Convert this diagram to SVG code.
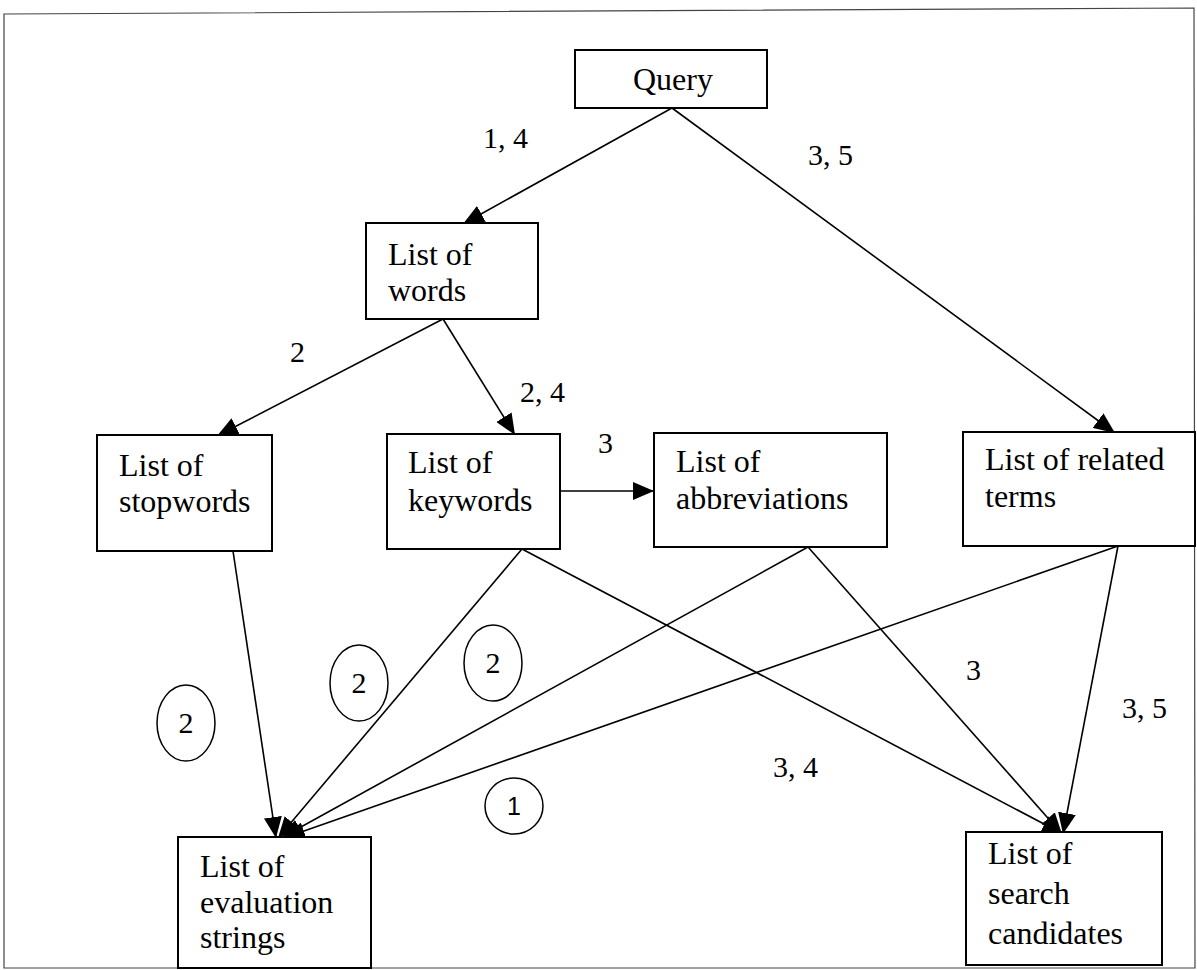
<svg xmlns="http://www.w3.org/2000/svg" width="1197" height="970" viewBox="0 0 1197 970">
  <style>
    .box { fill: #fff; stroke: #000; stroke-width: 2; }
    .txt { font-family: "Liberation Serif", "Times New Roman", serif; font-size: 32px; fill: #000; }
    .lbl { font-family: "Liberation Serif", "Times New Roman", serif; font-size: 30px; fill: #000; }
    .edge { fill: none; stroke: #000; stroke-width: 1.6; marker-end: url(#arrow); }
    .step { fill: none; stroke: #000; stroke-width: 1.5; }
    .frame { fill: none; stroke: #444; stroke-width: 1.2; }
  </style>
  <defs>
    <marker id="arrow" markerUnits="userSpaceOnUse" markerWidth="22" markerHeight="18" refX="21" refY="9" orient="auto">
      <path d="M0,0 L21,9 L0,18 Z" fill="#000"/>
    </marker>
  </defs>

  <rect width="1197" height="970" fill="#fff"/>
  <path class="frame" d="M4,14 L1194,8 L1195,968 L4,968 Z"/>

  <!-- connectors (drawn first so node boxes sit on top) -->
  <g id="connectors">
    <line class="edge" x1="672" y1="108" x2="463" y2="224"/>
    <line class="edge" x1="672" y1="108" x2="1115" y2="433"/>
    <line class="edge" x1="443" y1="319" x2="217" y2="436"/>
    <line class="edge" x1="443" y1="319" x2="515" y2="435"/>
    <line class="edge" x1="560" y1="491" x2="654" y2="491"/>
    <line class="edge" x1="233" y1="551" x2="276" y2="838"/>
    <line class="edge" x1="522" y1="549" x2="278" y2="838"/>
    <line class="edge" x1="808" y1="547" x2="281" y2="838"/>
    <line class="edge" x1="1118" y1="546" x2="284" y2="838"/>
    <line class="edge" x1="522" y1="549" x2="1063" y2="834"/>
    <line class="edge" x1="808" y1="547" x2="1062" y2="834"/>
    <line class="edge" x1="1118" y1="546" x2="1063" y2="834"/>

    <text class="lbl" x="483" y="148">1, 4</text>
    <text class="lbl" x="808" y="165">3, 5</text>
    <text class="lbl" x="290" y="362">2</text>
    <text class="lbl" x="520" y="402">2, 4</text>
    <text class="lbl" x="598" y="453">3</text>
    <text class="lbl" x="966" y="680">3</text>
    <text class="lbl" x="1122" y="718">3, 5</text>
    <text class="lbl" x="773" y="777">3, 4</text>
  </g>

  <!-- circled step numbers -->
  <g id="steps">
    <ellipse class="step" cx="186" cy="723" rx="29" ry="38"/>
    <text class="lbl" x="186" y="733" text-anchor="middle">2</text>
    <ellipse class="step" cx="359" cy="683" rx="29" ry="38"/>
    <text class="lbl" x="359" y="693" text-anchor="middle">2</text>
    <ellipse class="step" cx="493" cy="663" rx="29" ry="38"/>
    <text class="lbl" x="493" y="673" text-anchor="middle">2</text>
    <ellipse class="step" cx="514" cy="806" rx="29" ry="28"/>
    <text x="514" y="815" text-anchor="middle" font-family="Liberation Sans, Arial, sans-serif" font-size="25">1</text>
  </g>

  <g id="query">
    <rect class="box" x="575" y="50" width="192" height="58"/>
    <text class="txt" x="633" y="90" font-size="31">Query</text>
  </g>

  <g id="words">
    <rect class="box" x="366" y="223" width="172" height="96"/>
    <text class="txt" x="388" y="265">List of</text>
    <text class="txt" x="388" y="301">words</text>
  </g>

  <g id="stopwords">
    <rect class="box" x="97" y="435" width="175" height="116"/>
    <text class="txt" x="119" y="476">List of</text>
    <text class="txt" x="119" y="512">stopwords</text>
  </g>

  <g id="keywords">
    <rect class="box" x="387" y="434" width="173" height="115"/>
    <text class="txt" x="408" y="473">List of</text>
    <text class="txt" x="408" y="511">keywords</text>
  </g>

  <g id="abbreviations">
    <rect class="box" x="654" y="433" width="233" height="114"/>
    <text class="txt" x="676" y="472">List of</text>
    <text class="txt" x="676" y="509">abbreviations</text>
  </g>

  <g id="related">
    <rect class="box" x="963" y="432" width="232" height="114"/>
    <text class="txt" x="985" y="470">List of related</text>
    <text class="txt" x="985" y="507">terms</text>
  </g>

  <g id="evaluation">
    <rect class="box" x="178" y="837" width="193" height="131"/>
    <text class="txt" x="200" y="877">List of</text>
    <text class="txt" x="200" y="913">evaluation</text>
    <text class="txt" x="200" y="948">strings</text>
  </g>

  <g id="search">
    <rect class="box" x="966" y="832" width="196" height="133"/>
    <text class="txt" x="988" y="864">List of</text>
    <text class="txt" x="988" y="904">search</text>
    <text class="txt" x="988" y="944">candidates</text>
  </g>
</svg>
